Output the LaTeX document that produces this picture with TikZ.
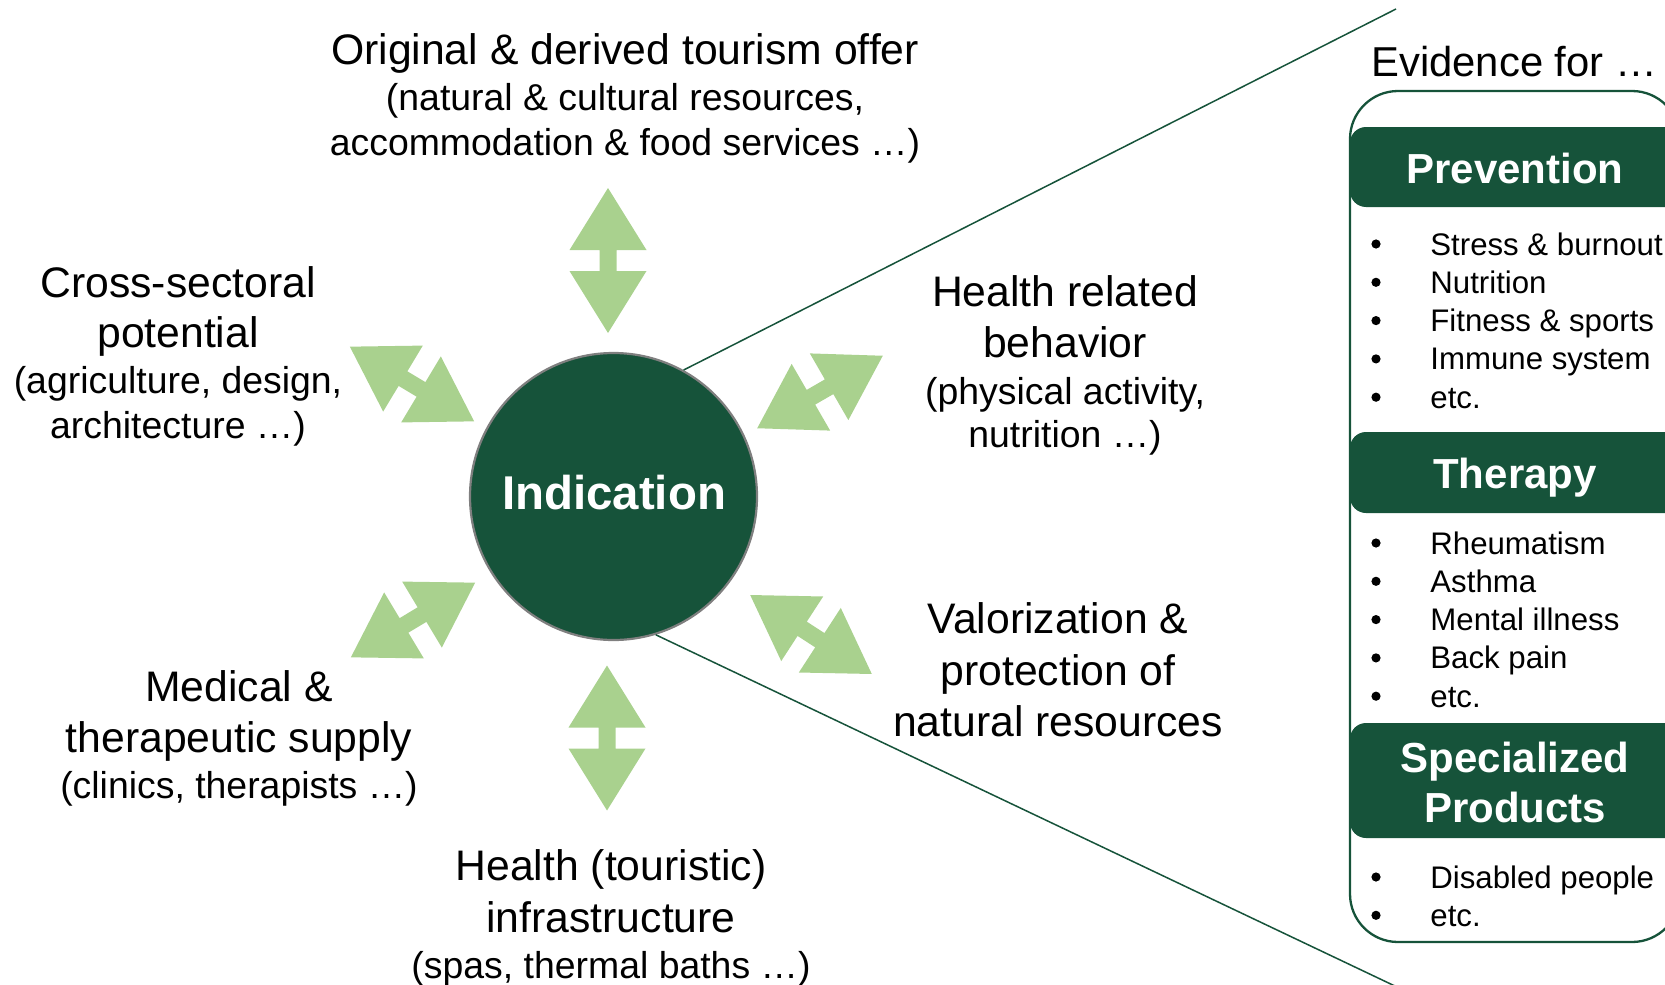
\documentclass[tikz,border=0pt]{standalone}
\usepackage{fontspec}
\setmainfont{Liberation Sans}
\definecolor{indgreen}{HTML}{16533A}
\definecolor{arrgreen}{HTML}{A9D18E}
\definecolor{rimgray}{HTML}{7F7F7F}
\begin{document}
\begin{tikzpicture}[x=0.5pt,y=-0.5pt,
  big/.style={font=\fontsize{21.35}{25}\selectfont, anchor=base, inner sep=0pt},
  small/.style={font=\fontsize{18.7}{22}\selectfont, anchor=base, inner sep=0pt},
  hdr/.style={font=\bfseries\fontsize{21}{25}\selectfont, text=white, anchor=base, inner sep=0pt},
  item/.style={font=\fontsize{15.6}{18}\selectfont, anchor=base west, inner sep=0pt},
  bul/.style={circle, fill=black, minimum size=4.6pt, inner sep=0pt},
  hdrbar/.style={fill=indgreen, rounded corners=8pt},
  callout/.style={draw=indgreen, line width=0.75pt},
  dblarr/.pic={\fill[arrgreen] (-72.5,0) -- (-10.5,38.5) -- (-10.5,8.5) -- (10.5,8.5) -- (10.5,38.5) -- (72.5,0) -- (10.5,-38.5) -- (10.5,-8.5) -- (-10.5,-8.5) -- (-10.5,-38.5) -- cycle;},
]
\useasboundingbox (0,0) rectangle (1665,985);
\clip (0,0) rectangle (1665,985);

% central circle
\node[circle, fill=indgreen, draw=rimgray, line width=1.1pt, minimum size=143.5pt, inner sep=0pt] (ind) at (613.5,496.5) {};
\node[font=\bfseries\fontsize{23.7}{28}\selectfont, text=white, anchor=base, inner sep=0pt] (indt) at (614,509) {Indication};

% double arrows
\pic[rotate=90] at (608,260.5) {dblarr};
\pic[rotate=90] at (607,738) {dblarr};
\pic[rotate=-31] at (412,384) {dblarr};
\pic[rotate=30] at (820,392) {dblarr};
\pic[rotate=31] at (413,620) {dblarr};
\pic[rotate=-33] at (811,634.5) {dblarr};

% labels
\node[big] (o1) at (625,64) {Original \& derived tourism offer};
\node[small] (o2) at (625,110) {(natural \& cultural resources,};
\node[small] (o3) at (625,155) {accommodation \& food services …)};

\node[big] (cs1) at (178,297) {Cross-sectoral};
\node[big] (cs2) at (178,347) {potential};
\node[small] (cs3) at (178,393.5) {(agriculture, design,};
\node[small] (cs4) at (178,438.5) {architecture …)};

\node[big] (hr1) at (1065,306) {Health related};
\node[big] (hr2) at (1065,357) {behavior};
\node[small] (hr3) at (1065,404) {(physical activity,};
\node[small] (hr4) at (1065,447) {nutrition …)};

\node[big] (v1) at (1058,633) {Valorization \&};
\node[big] (v2) at (1058,685) {protection of};
\node[big] (v3) at (1058,736) {natural resources};

\node[big] (m1) at (239,701) {Medical \&};
\node[big] (m2) at (239,752) {therapeutic supply};
\node[small] (m3) at (239,798) {(clinics, therapists …)};

\node[big] (ht1) at (611,880) {Health (touristic)};
\node[big] (ht2) at (611,932) {infrastructure};
\node[small] (ht3) at (611,978) {(spas, thermal baths …)};

% callout lines
\coordinate (c1) at (1396,9);
\coordinate (c2) at (1397,987);
\draw[callout] (ind.61.7) -- (c1);
\draw[callout] (ind.-73.3) -- (c2);

% evidence panel
\node[font=\fontsize{20.9}{25}\selectfont, anchor=base west, inner sep=0pt] (ev) at (1371,76) {Evidence for …};
\draw[draw=indgreen, line width=1.15pt, rounded corners=24pt] (1350,91) rectangle (1680,942);

\fill[hdrbar] (1350,127) rectangle (1700,207);
\fill[hdrbar] (1350,432) rectangle (1700,513);
\fill[hdrbar] (1350,723) rectangle (1700,838);
\node[hdr] (hP) at (1515,183) {Prevention};
\node[hdr] (hT) at (1515,488) {Therapy};
\node[hdr] (hS1) at (1515,772) {Specialized};
\node[hdr] (hS2) at (1515,822) {Products};

\foreach \t [count=\i] in {Stress \& burnout, Nutrition, Fitness \& sports, Immune system, etc.}{
  \node[bul] (pb\i) at (1376,{244+38.3*(\i-1)}) {};
  \node[item] (pi\i) at (1430,{255+38.3*(\i-1)}) {\t};
}
\foreach \t [count=\i] in {Rheumatism, Asthma, Mental illness, Back pain, etc.}{
  \node[bul] (tb\i) at (1376,{543+38.3*(\i-1)}) {};
  \node[item] (ti\i) at (1430,{554+38.3*(\i-1)}) {\t};
}
\foreach \t [count=\i] in {Disabled people, etc.}{
  \node[bul] (sb\i) at (1376,{877+38.3*(\i-1)}) {};
  \node[item] (si\i) at (1430,{888+38.3*(\i-1)}) {\t};
}
\end{tikzpicture}
\end{document}
